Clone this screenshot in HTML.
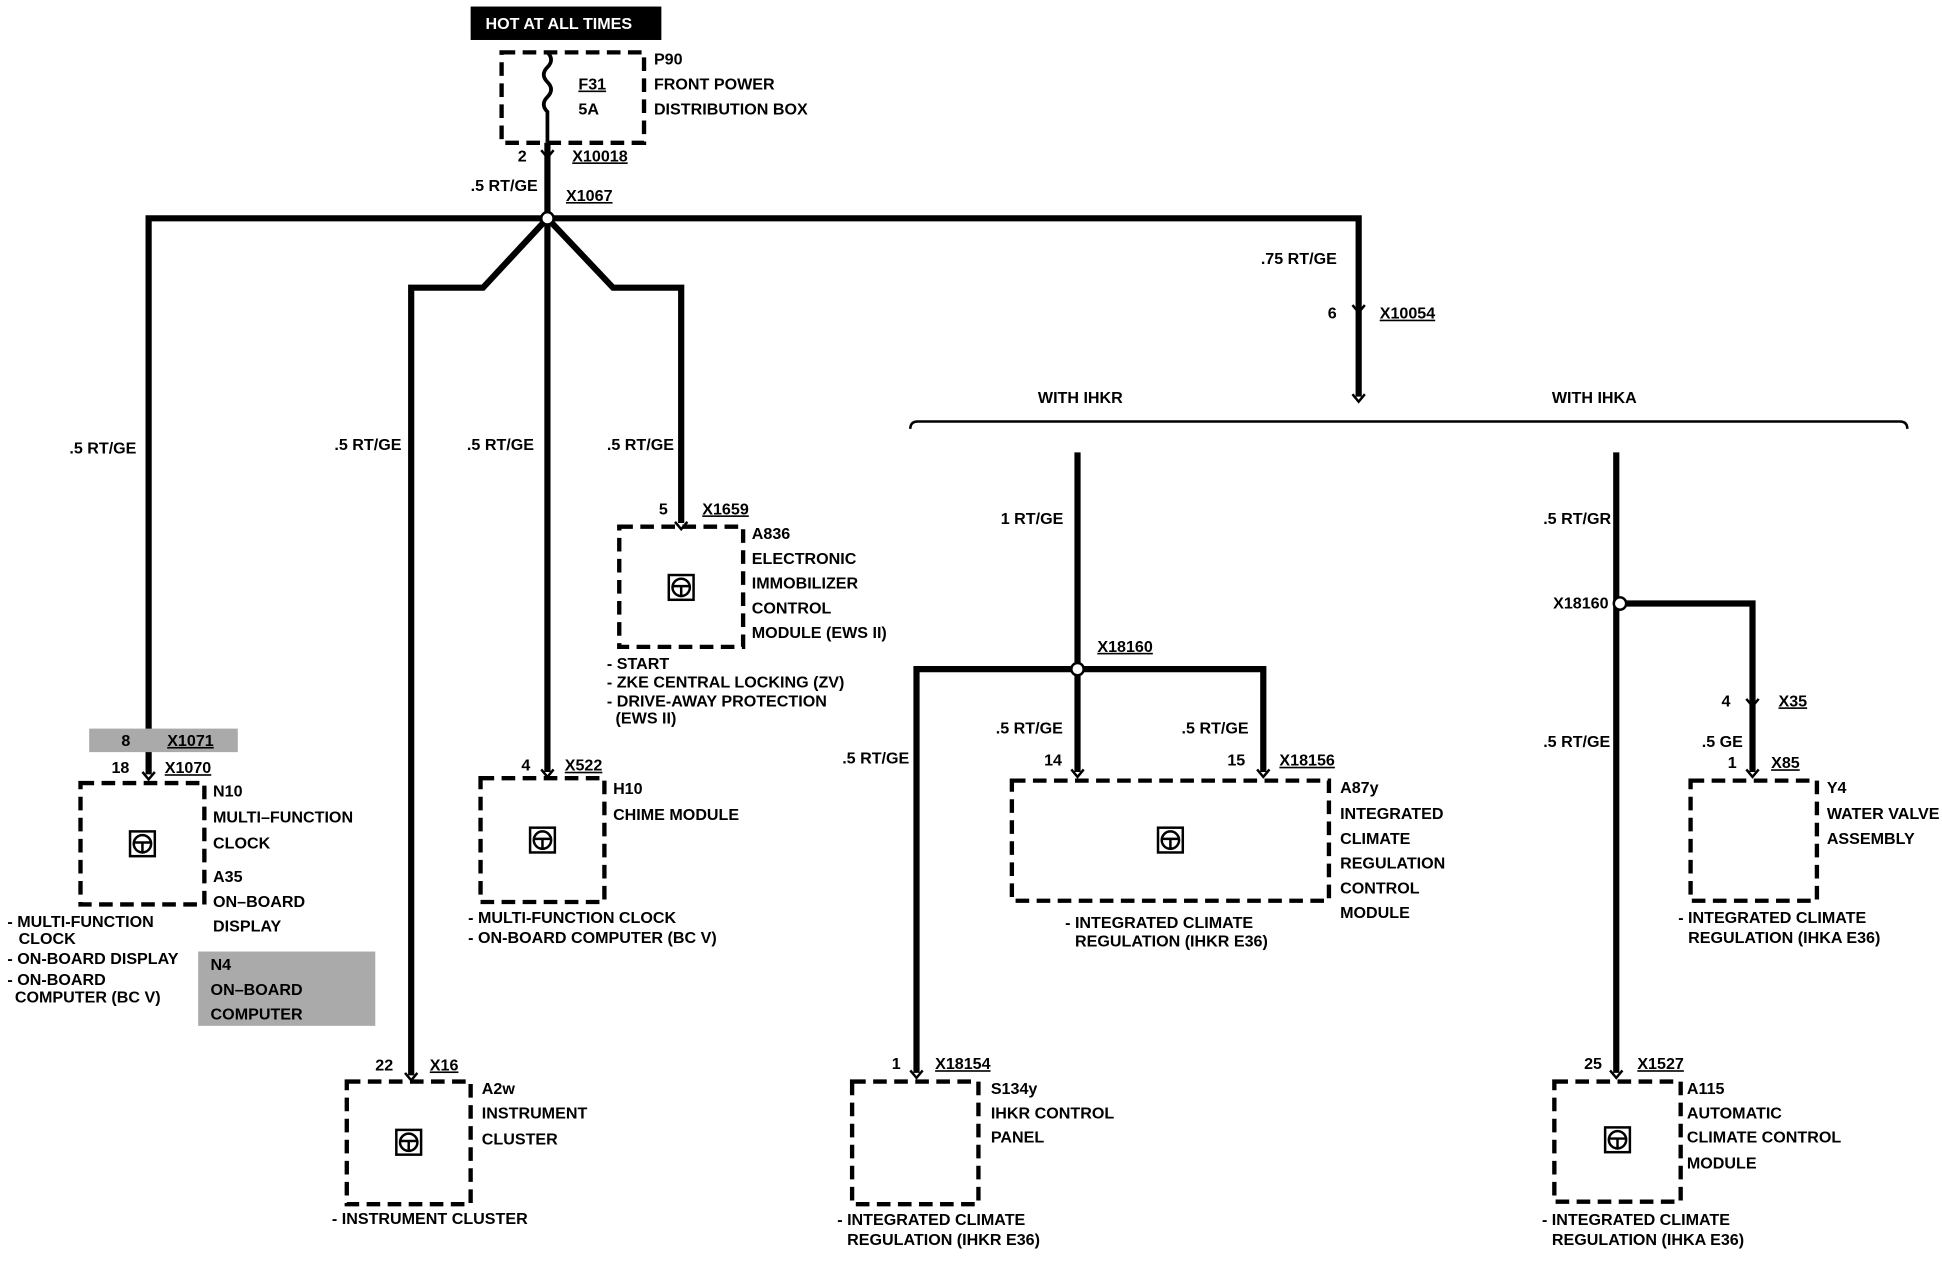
<!DOCTYPE html>
<html><head><meta charset="utf-8"><style>
html,body{margin:0;padding:0;background:#fff;width:1942px;height:1264px;overflow:hidden}
svg{display:block}
text{font-family:"Liberation Sans",sans-serif;font-weight:bold;font-size:13px;fill:#000}
.u{text-decoration:underline}
</style></head><body>
<svg width="1942" height="1264" viewBox="0 0 1568 1020" xmlns="http://www.w3.org/2000/svg">
<defs>
<g id="ic"><rect x="-10" y="-10" width="20" height="20" fill="none" stroke="#000" stroke-width="2"/><circle cx="0" cy="0" r="7" fill="none" stroke="#000" stroke-width="2"/><path d="M-7 -1 H7 M0 -1 V7" stroke="#000" stroke-width="2"/></g>
<path id="ar" d="M-5 -4 L0 2 L5 -4" fill="none" stroke="#000" stroke-width="2"/>
</defs>
<g fill="none" stroke="#000" stroke-width="3.5" stroke-dasharray="11,6">
<rect x="405" y="42" width="115" height="73"/>
<rect x="65" y="632" width="100" height="98"/>
<rect x="388" y="628" width="100" height="100"/>
<rect x="500" y="425" width="100" height="97"/>
<rect x="280" y="873" width="100" height="99"/>
<rect x="817" y="630" width="256" height="97"/>
<rect x="688" y="873" width="102" height="99"/>
<rect x="1365" y="630" width="102" height="97"/>
<rect x="1255" y="873" width="102" height="97"/>
</g>
<path d="M442 42 q6 6 0 12 q-6 6 0 12 q6 6 0 12 q-6 6 0 12 V115" fill="none" stroke="#000" stroke-width="3"/>
<g fill="none" stroke="#000" stroke-width="5" stroke-linejoin="miter">
<path d="M442 115 V176"/>
<path d="M120 625 V176 H1097 V320"/>
<path d="M442 176 L390 232 H332 V868"/>
<path d="M442 176 V623"/>
<path d="M442 176 L495 232 H550 V422"/>
<path d="M870 365 V623"/>
<path d="M740 866 V540 H1020 V623"/>
<path d="M1305 365 V866"/>
<path d="M1305 487 H1415 V623"/>
</g>
<path d="M735 346 Q735 340 741 340 H1534 Q1540 340 1540 346" fill="none" stroke="#000" stroke-width="2"/>
<circle cx="442" cy="176" r="5" fill="#fff" stroke="#000" stroke-width="2"/>
<circle cx="870" cy="540" r="5" fill="#fff" stroke="#000" stroke-width="2"/>
<circle cx="1308" cy="487" r="5" fill="#fff" stroke="#000" stroke-width="2"/>
<g>
<use href="#ar" x="442" y="125"/><use href="#ar" x="1097" y="250"/><use href="#ar" x="1097" y="322"/>
<use href="#ar" x="120" y="627"/><use href="#ar" x="442" y="625"/><use href="#ar" x="550" y="425"/>
<use href="#ar" x="332" y="870"/><use href="#ar" x="870" y="625"/><use href="#ar" x="1020" y="625"/>
<use href="#ar" x="740" y="868"/><use href="#ar" x="1415" y="625"/><use href="#ar" x="1415" y="568"/>
<use href="#ar" x="1305" y="868"/>
</g>
<g><use href="#ic" x="115" y="681"/><use href="#ic" x="438" y="678"/><use href="#ic" x="550" y="474"/>
<use href="#ic" x="330" y="922"/><use href="#ic" x="945" y="678"/><use href="#ic" x="1306" y="920"/></g>
<rect x="380" y="5" width="154" height="27" fill="#000"/>
<text x="392" y="23" style="fill:#fff">HOT AT ALL TIMES</text>
<rect x="72" y="588" width="120" height="19" fill="#aaa"/>
<rect x="160" y="768" width="143" height="60" fill="#aaa"/>
<text x="467" y="72" class="u">F31</text><text x="467" y="92">5A</text>
<text x="528" y="52">P90</text><text x="528" y="72">FRONT POWER</text><text x="528" y="92">DISTRIBUTION BOX</text>
<text x="418" y="130">2</text><text x="462" y="130" class="u">X10018</text>
<text x="380" y="154">.5 RT/GE</text><text x="457" y="162" class="u">X1067</text>
<text x="1018" y="213">.75 RT/GE</text><text x="1072" y="257">6</text><text x="1114" y="257" class="u">X10054</text>
<text x="838" y="325">WITH IHKR</text><text x="1253" y="325">WITH IHKA</text>
<text x="56" y="366">.5 RT/GE</text><text x="270" y="363">.5 RT/GE</text><text x="377" y="363">.5 RT/GE</text><text x="490" y="363">.5 RT/GE</text>
<text x="532" y="415">5</text><text x="567" y="415" class="u">X1659</text>
<text x="607" y="435">A836</text><text x="607" y="455">ELECTRONIC</text><text x="607" y="475">IMMOBILIZER</text><text x="607" y="495">CONTROL</text><text x="607" y="515">MODULE (EWS II)</text>
<text x="490" y="540">- START</text><text x="490" y="555">- ZKE CENTRAL LOCKING (ZV)</text><text x="490" y="570">- DRIVE-AWAY PROTECTION</text><text x="497" y="584">(EWS II)</text>
<text x="98" y="602">8</text><text x="135" y="602" class="u">X1071</text>
<text x="90" y="624">18</text><text x="133" y="624" class="u">X1070</text>
<text x="172" y="643">N10</text><text x="172" y="664">MULTI–FUNCTION</text><text x="172" y="685">CLOCK</text><text x="172" y="712">A35</text><text x="172" y="732">ON–BOARD</text><text x="172" y="752">DISPLAY</text>
<text x="6" y="748">- MULTI-FUNCTION</text><text x="15" y="762">CLOCK</text><text x="6" y="778">- ON-BOARD DISPLAY</text><text x="6" y="795">- ON-BOARD</text><text x="12" y="809">COMPUTER (BC V)</text>
<text x="170" y="783">N4</text><text x="170" y="803">ON–BOARD</text><text x="170" y="823">COMPUTER</text>
<text x="421" y="622">4</text><text x="456" y="622" class="u">X522</text>
<text x="495" y="641">H10</text><text x="495" y="662">CHIME MODULE</text>
<text x="378" y="745">- MULTI-FUNCTION CLOCK</text><text x="378" y="761">- ON-BOARD COMPUTER (BC V)</text>
<text x="303" y="864">22</text><text x="347" y="864" class="u">X16</text>
<text x="389" y="883">A2w</text><text x="389" y="903">INSTRUMENT</text><text x="389" y="924">CLUSTER</text>
<text x="268" y="988">- INSTRUMENT CLUSTER</text>
<text x="808" y="423">1 RT/GE</text><text x="886" y="526" class="u">X18160</text>
<text x="680" y="616">.5 RT/GE</text><text x="804" y="592">.5 RT/GE</text><text x="954" y="592">.5 RT/GE</text>
<text x="843" y="618">14</text><text x="991" y="618">15</text><text x="1033" y="618" class="u">X18156</text>
<text x="1082" y="640">A87y</text><text x="1082" y="661">INTEGRATED</text><text x="1082" y="681">CLIMATE</text><text x="1082" y="701">REGULATION</text><text x="1082" y="721">CONTROL</text><text x="1082" y="741">MODULE</text>
<text x="860" y="749">- INTEGRATED CLIMATE</text><text x="868" y="764">REGULATION (IHKR E36)</text>
<text x="720" y="863">1</text><text x="755" y="863" class="u">X18154</text>
<text x="800" y="883">S134y</text><text x="800" y="903">IHKR CONTROL</text><text x="800" y="922">PANEL</text>
<text x="676" y="989">- INTEGRATED CLIMATE</text><text x="684" y="1005">REGULATION (IHKR E36)</text>
<text x="1246" y="423">.5 RT/GR</text><text x="1254" y="491">X18160</text>
<text x="1246" y="603">.5 RT/GE</text><text x="1390" y="570">4</text><text x="1436" y="570" class="u">X35</text>
<text x="1374" y="603">.5 GE</text><text x="1395" y="620">1</text><text x="1430" y="620" class="u">X85</text>
<text x="1475" y="640">Y4</text><text x="1475" y="661">WATER VALVE</text><text x="1475" y="681">ASSEMBLY</text>
<text x="1355" y="745">- INTEGRATED CLIMATE</text><text x="1363" y="761">REGULATION (IHKA E36)</text>
<text x="1279" y="863">25</text><text x="1322" y="863" class="u">X1527</text>
<text x="1362" y="883">A115</text><text x="1362" y="903">AUTOMATIC</text><text x="1362" y="922">CLIMATE CONTROL</text><text x="1362" y="943">MODULE</text>
<text x="1245" y="989">- INTEGRATED CLIMATE</text><text x="1253" y="1005">REGULATION (IHKA E36)</text>
</svg>
</body></html>
